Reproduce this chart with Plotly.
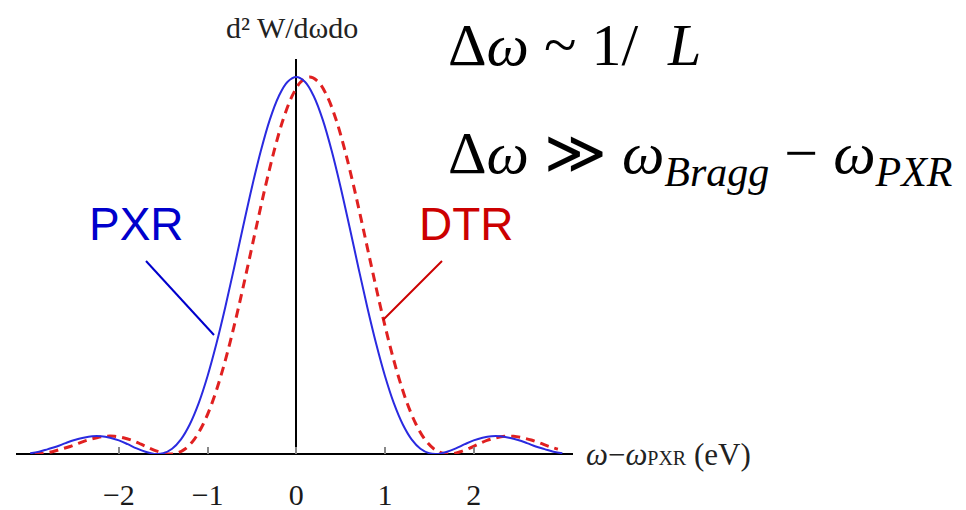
import plotly.graph_objects as go

# ---- data ----
pxr_x = [-3.0, -2.9, -2.8, -2.7, -2.6, -2.5, -2.4, -2.3, -2.2, -2.1, -2.0, -1.9, -1.8, -1.7, -1.6,
         -1.5, -1.4, -1.3, -1.2, -1.1, -1.0, -0.9, -0.8, -0.7, -0.6, -0.5, -0.4, -0.3, -0.2, -0.1,
         0.0, 0.1, 0.2, 0.3, 0.4, 0.5, 0.6, 0.7, 0.8, 0.9, 1.0, 1.1, 1.2, 1.3, 1.4,
         1.5, 1.6, 1.7, 1.8, 1.9, 2.0, 2.1, 2.2, 2.3, 2.4, 2.5, 2.6, 2.7, 2.8, 2.9, 3.0]
pxr_y = [0.002, 0.006, 0.013, 0.020, 0.029, 0.037, 0.043, 0.047, 0.047, 0.043, 0.036, 0.026, 0.015, 0.006, 0.0003,
         0.002, 0.014, 0.039, 0.079, 0.135, 0.207, 0.293, 0.390, 0.495, 0.603, 0.708, 0.804, 0.886, 0.948, 0.987,
         1.000, 0.987, 0.948, 0.886, 0.804, 0.708, 0.603, 0.495, 0.390, 0.293, 0.207, 0.135, 0.079, 0.039, 0.014,
         0.002, 0.0003, 0.006, 0.015, 0.026, 0.036, 0.043, 0.047, 0.047, 0.043, 0.037, 0.029, 0.020, 0.013, 0.006, 0.002]

dtr_x = [-2.95, -2.85, -2.75, -2.65, -2.55, -2.45, -2.35, -2.25, -2.15, -2.05, -1.95, -1.85, -1.75, -1.65, -1.55,
         -1.45, -1.35, -1.25, -1.15, -1.05, -0.95, -0.85, -0.75, -0.65, -0.55, -0.45, -0.35, -0.25, -0.15, -0.05,
         0.05, 0.15, 0.25, 0.35, 0.45, 0.55, 0.65, 0.75, 0.85, 0.95, 1.05, 1.15, 1.25, 1.35, 1.45,
         1.55, 1.65, 1.75, 1.85, 1.95, 2.05, 2.15, 2.25, 2.35, 2.45, 2.55, 2.65, 2.75, 2.85, 2.95]
dtr_y = [0.0002, 0.002, 0.006, 0.013, 0.020, 0.029, 0.037, 0.043, 0.047, 0.047, 0.043, 0.036, 0.026, 0.015, 0.006,
         0.0003, 0.002, 0.014, 0.039, 0.079, 0.135, 0.207, 0.293, 0.390, 0.495, 0.603, 0.708, 0.804, 0.886, 0.948,
         0.987, 1.000, 0.987, 0.948, 0.886, 0.804, 0.708, 0.603, 0.495, 0.390, 0.293, 0.207, 0.135, 0.079, 0.039,
         0.014, 0.002, 0.0003, 0.006, 0.015, 0.026, 0.036, 0.043, 0.047, 0.047, 0.043, 0.037, 0.029, 0.020, 0.013]

tick_vals = [-2, -1, 0, 1, 2]
tick_text = ["\u22122", "\u22121", "0", "1", "2"]

# ---- layout geometry (screen pixels; the page body adds an 8px offset) ----
OFF = 8
W, H = 966 - 2 * OFF, 510 - OFF
L_PX, R_PX, T_PX, B_PX = 16, 573, 59, 454   # plot area in screen pixels


def px(xp):
    return (xp - L_PX) / (R_PX - L_PX)


def py(yp):
    return (B_PX - yp) / (B_PX - T_PX)


fig = go.Figure()
fig.add_trace(go.Scatter(x=dtr_x, y=dtr_y, mode="lines", name="DTR",
                         line=dict(color="#e02020", width=3, dash="9px,6px", shape="spline")))
fig.add_trace(go.Scatter(x=pxr_x, y=pxr_y, mode="lines", name="PXR",
                         line=dict(color="#2a2ae0", width=2, shape="spline")))

serif = "Liberation Serif, DejaVu Serif, serif"
sans = "Liberation Sans, Arial, sans-serif"

fig.update_layout(
    width=W, height=H,
    margin=dict(l=L_PX - OFF, r=(W + OFF) - R_PX, t=T_PX - OFF, b=(H + OFF) - B_PX, pad=0,
                autoexpand=False),
    paper_bgcolor="white", plot_bgcolor="white",
    showlegend=False,
    xaxis=dict(range=[-3.16, 3.12], showgrid=False, zeroline=True, zerolinecolor="black",
               zerolinewidth=1.6, showline=False, tickvals=tick_vals, ticktext=tick_text,
               ticks="inside", ticklen=7, tickwidth=2, tickcolor="#888888", automargin=False,
               tickfont=dict(family=serif, size=30, color="#1a1a1a"), ticklabelstandoff=20),
    yaxis=dict(range=[0, 1.048], showgrid=False, zeroline=True, zerolinecolor="black",
               zerolinewidth=1.6, showticklabels=False, ticks="", showline=False, automargin=False),
)

ann = []
ann.append(dict(text="d² W/dωdo", x=px(292), y=py(27), xref="paper", yref="paper",
                showarrow=False, xanchor="center", yanchor="middle",
                font=dict(family=serif, size=30, color="#222")))
ann.append(dict(text="<i>ω</i>−<i>ω</i><span style='font-size:20px'>PXR</span> (eV)",
                x=px(584), y=py(454), xref="paper", yref="paper", showarrow=False,
                xanchor="left", yanchor="middle", font=dict(family=serif, size=31, color="#222")))
ann.append(dict(text="Δ<i>ω</i> ~ 1/  <i>L</i>", x=px(446), y=py(45), xref="paper", yref="paper",
                showarrow=False, xanchor="left", yanchor="middle",
                font=dict(family=serif, size=60, color="black")))
ann.append(dict(text="Δ<i>ω</i> ≫ <i>ω<sub>Bragg</sub></i> − <i>ω<sub>PXR</sub></i>", x=px(446), y=py(157),
                xref="paper", yref="paper", showarrow=False, xanchor="left", yanchor="middle",
                font=dict(family=serif, size=60, color="black")))
ann.append(dict(text="PXR", x=px(136), y=py(224), xref="paper", yref="paper", showarrow=False,
                xanchor="center", yanchor="middle", font=dict(family=sans, size=46, color="#0000cc")))
ann.append(dict(text="DTR", x=px(466), y=py(224), xref="paper", yref="paper", showarrow=False,
                xanchor="center", yanchor="middle", font=dict(family=sans, size=46, color="#cc0000")))
fig.update_layout(annotations=ann)

fig.add_shape(type="line", xref="paper", yref="paper", x0=px(146), y0=py(261), x1=px(214), y1=py(335),
              line=dict(color="#0000cc", width=2))
fig.add_shape(type="line", xref="paper", yref="paper", x0=px(442), y0=py(261), x1=px(383), y1=py(320),
              line=dict(color="#cc0000", width=2))

fig.write_html("out.html")
